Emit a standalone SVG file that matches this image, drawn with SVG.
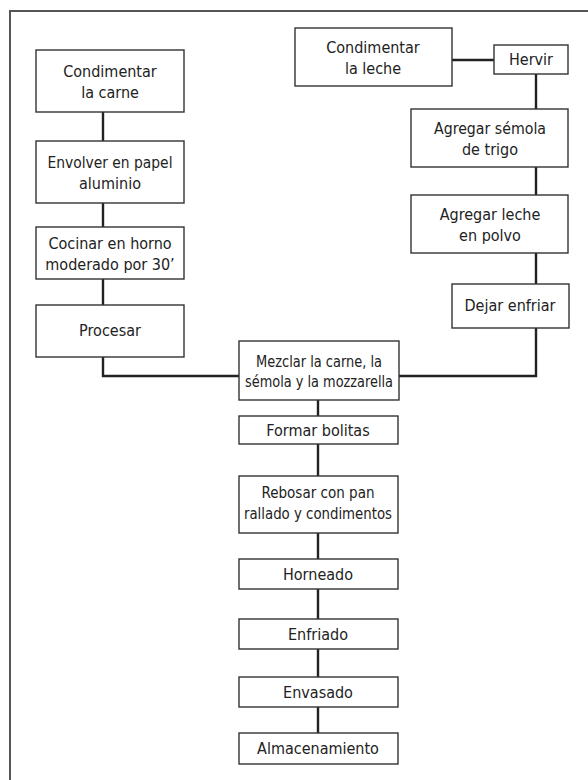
<svg xmlns="http://www.w3.org/2000/svg" width="588" height="780" viewBox="0 0 588 780">
<style>
.box{fill:#fff;stroke:#333;stroke-width:1.4}
.lbl{font-family:"DejaVu Sans Condensed","DejaVu Sans",sans-serif;font-size:16px;fill:#222;text-anchor:middle}
.con{fill:none;stroke:#222;stroke-width:2.4}
.frame{fill:none;stroke:#555;stroke-width:2}
</style>
<rect width="588" height="780" fill="#fff"/>
<path class="frame" d="M10,780 V11 H588"/>
<g id="connectors">
<path class="con" d="M103,112 V141"/>
<path class="con" d="M103,203 V227"/>
<path class="con" d="M103,279 V305"/>
<path class="con" d="M103,357 V376 H239"/>
<path class="con" d="M452,60 H494"/>
<path class="con" d="M536,74 V109"/>
<path class="con" d="M536,167 V195"/>
<path class="con" d="M536,253 V284"/>
<path class="con" d="M536,328 V376 H399"/>
<path class="con" d="M318,400 V416"/>
<path class="con" d="M318,444 V476"/>
<path class="con" d="M318,533 V559"/>
<path class="con" d="M318,589 V619"/>
<path class="con" d="M318,649 V677"/>
<path class="con" d="M318,707 V733"/>
</g>
<g id="n1"><rect class="box" x="36" y="50" width="148" height="62"/><text class="lbl" x="110" y="77">Condimentar</text><text class="lbl" x="110" y="98">la carne</text></g>
<g id="n2"><rect class="box" x="36" y="141" width="148" height="62"/><text class="lbl" x="110" y="168" textLength="125" lengthAdjust="spacingAndGlyphs">Envolver en papel</text><text class="lbl" x="110" y="189">aluminio</text></g>
<g id="n3"><rect class="box" x="36" y="227" width="148" height="52"/><text class="lbl" x="110" y="249">Cocinar en horno</text><text class="lbl" x="110" y="270">moderado por 30’</text></g>
<g id="n4"><rect class="box" x="36" y="305" width="148" height="52"/><text class="lbl" x="110" y="336">Procesar</text></g>
<g id="n5"><rect class="box" x="295" y="28" width="157" height="58"/><text class="lbl" x="373" y="53">Condimentar</text><text class="lbl" x="373" y="74">la leche</text></g>
<g id="n6"><rect class="box" x="494" y="45" width="74" height="29"/><text class="lbl" x="531" y="65">Hervir</text></g>
<g id="n7"><rect class="box" x="411" y="109" width="157" height="58"/><text class="lbl" x="490" y="134" textLength="112" lengthAdjust="spacingAndGlyphs">Agregar sémola</text><text class="lbl" x="490" y="155">de trigo</text></g>
<g id="n8"><rect class="box" x="411" y="195" width="157" height="58"/><text class="lbl" x="490" y="220">Agregar leche</text><text class="lbl" x="490" y="241">en polvo</text></g>
<g id="n9"><rect class="box" x="452" y="284" width="117" height="44"/><text class="lbl" x="510" y="311">Dejar enfriar</text></g>
<g id="n10"><rect class="box" x="239" y="341" width="160" height="59"/><text class="lbl" x="319" y="367" textLength="126" lengthAdjust="spacingAndGlyphs">Mezclar la carne, la</text><text class="lbl" x="319" y="387" textLength="148" lengthAdjust="spacingAndGlyphs">sémola y la mozzarella</text></g>
<g id="n11"><rect class="box" x="239" y="416" width="159" height="28"/><text class="lbl" x="318" y="436">Formar bolitas</text></g>
<g id="n12"><rect class="box" x="239" y="476" width="159" height="57"/><text class="lbl" x="318" y="498" textLength="113" lengthAdjust="spacingAndGlyphs">Rebosar con pan</text><text class="lbl" x="318" y="519" textLength="148" lengthAdjust="spacingAndGlyphs">rallado y condimentos</text></g>
<g id="n13"><rect class="box" x="239" y="559" width="159" height="30"/><text class="lbl" x="318" y="580">Horneado</text></g>
<g id="n14"><rect class="box" x="239" y="619" width="159" height="30"/><text class="lbl" x="318" y="640">Enfriado</text></g>
<g id="n15"><rect class="box" x="239" y="677" width="159" height="30"/><text class="lbl" x="318" y="698">Envasado</text></g>
<g id="n16"><rect class="box" x="239" y="733" width="159" height="31"/><text class="lbl" x="318" y="754">Almacenamiento</text></g>
</svg>
